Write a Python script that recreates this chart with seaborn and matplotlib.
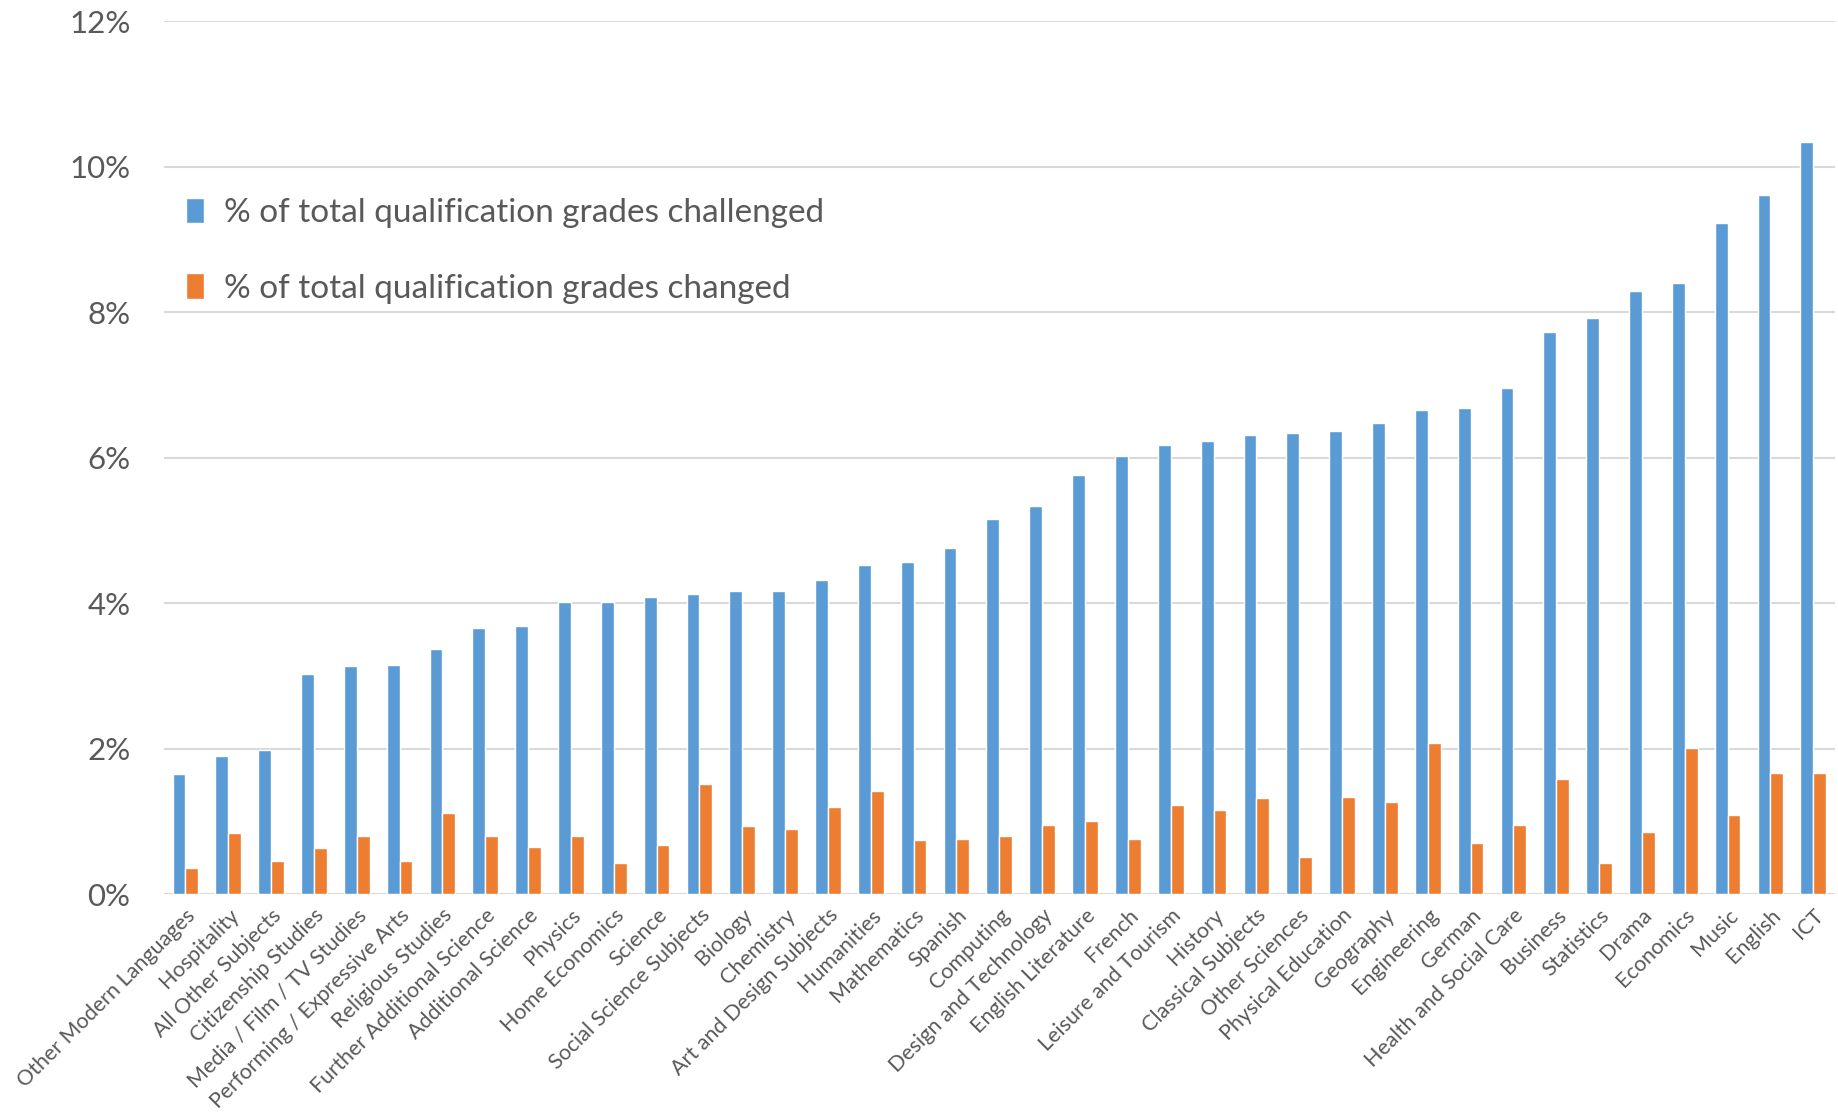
import matplotlib
import matplotlib.pyplot as plt
import pandas as pd
import seaborn as sns

matplotlib.use('Agg')

subjects = [
    'Other Modern Languages', 'Hospitality', 'All Other Subjects', 'Citizenship Studies',
    'Media / Film / TV Studies', 'Performing / Expressive Arts', 'Religious Studies',
    'Further Additional Science', 'Additional Science', 'Physics', 'Home Economics',
    'Science', 'Social Science Subjects', 'Biology', 'Chemistry', 'Art and Design Subjects',
    'Humanities', 'Mathematics', 'Spanish', 'Computing', 'Design and Technology',
    'English Literature', 'French', 'Leisure and Tourism', 'History', 'Classical Subjects',
    'Other Sciences', 'Physical Education', 'Geography', 'Engineering', 'German',
    'Health and Social Care', 'Business', 'Statistics', 'Drama', 'Economics', 'Music',
    'English', 'ICT',
]
challenged = [
    1.65, 1.90, 1.98, 3.03, 3.13, 3.15, 3.37, 3.66, 3.69, 4.02, 4.02, 4.08, 4.13,
    4.16, 4.16, 4.32, 4.53, 4.56, 4.76, 5.16, 5.34, 5.76, 6.02, 6.17, 6.23, 6.31,
    6.34, 6.37, 6.48, 6.66, 6.68, 6.95, 7.73, 7.92, 8.29, 8.40, 9.23, 9.61, 10.34,
]
changed = [
    0.36, 0.84, 0.45, 0.63, 0.80, 0.46, 1.12, 0.80, 0.65, 0.80, 0.43, 0.67, 1.51,
    0.93, 0.90, 1.19, 1.41, 0.74, 0.75, 0.80, 0.95, 1.00, 0.75, 1.22, 1.15, 1.32,
    0.51, 1.34, 1.27, 2.07, 0.70, 0.95, 1.58, 0.43, 0.85, 2.01, 1.09, 1.66, 1.66,
]
series_names = ['% of total qualification grades challenged',
                '% of total qualification grades changed']
colors = ['#5B9BD5', '#ED7D31']
y_ticks = [0, 2, 4, 6, 8, 10, 12]

df = pd.DataFrame({
    'subject': subjects * 2,
    'value': challenged + changed,
    'series': [series_names[0]] * len(subjects) + [series_names[1]] * len(subjects),
})

sns.set_style('white')
plt.rcParams['font.family'] = ['Lato', 'DejaVu Sans']

fig = plt.figure(figsize=(18.38, 11.12), dpi=100)
ax = fig.add_axes([0.0892, 0.196, 0.909, 0.785])

sns.barplot(data=df, x='subject', y='value', hue='series', palette=colors,
            width=0.6, saturation=1, ax=ax, zorder=3)

ax.set_ylim(0, 12)
ax.set_xlim(-0.5, len(subjects) - 0.5)
ax.set_yticks(y_ticks)
ax.set_yticklabels([f'{t}%' for t in y_ticks])
ax.yaxis.grid(True, color='#d9d9d9', linewidth=1.5, zorder=0)
ax.set_axisbelow(True)
for s in ax.spines.values():
    s.set_visible(False)
ax.set_xlabel('')
ax.set_ylabel('')
ax.tick_params(axis='y', length=0, pad=24, labelsize=22.5, labelcolor='#595959')
ax.tick_params(axis='x', length=0, pad=8, labelsize=15.5, labelcolor='#595959')
plt.setp(ax.get_xticklabels(), rotation=45, ha='right', rotation_mode='anchor')

leg = ax.legend(loc='upper left', bbox_to_anchor=(-0.005, 0.832), frameon=False,
                fontsize=24, labelcolor='#595959', handlelength=0.55,
                handleheight=0.8, handletextpad=0.6, labelspacing=1.36)

fig.savefig('out.png', dpi=100)
